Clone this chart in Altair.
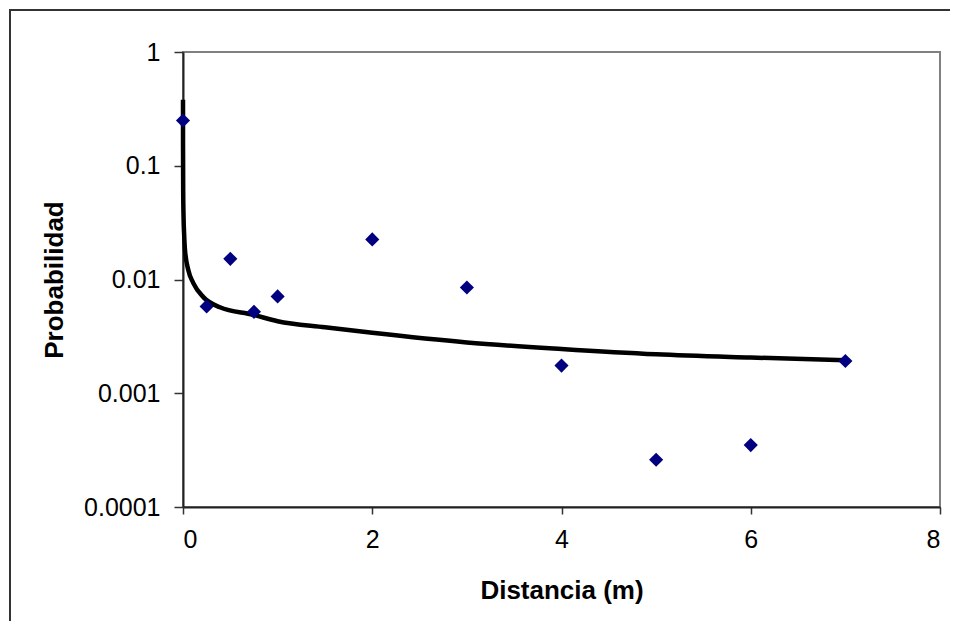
import altair as alt
import pandas as pd

# Observed points
dist = [0, 0.25, 0.5, 0.75, 1, 2, 3, 4, 5, 6, 7]
prob = [0.25, 0.0058, 0.0152, 0.0052, 0.0071, 0.0225, 0.0085, 0.00175, 0.00026, 0.00035, 0.00192]

# Trend curve
curve_x = [0.00003, 0.0003, 0.002, 0.006, 0.012, 0.021, 0.056, 0.109, 0.215, 0.39, 0.74,
           1.0, 1.5, 2.0, 3.0, 4.0, 5.0, 6.0, 7.0]
curve_y = [0.38, 0.15, 0.06, 0.035, 0.025, 0.0182, 0.0121, 0.0093, 0.0070, 0.0057, 0.0049,
           0.0043, 0.0038, 0.0034, 0.0028, 0.00245, 0.0022, 0.00206, 0.00195]

x_ticks = [0, 2, 4, 6, 8]
y_ticks = [1, 0.1, 0.01, 0.001, 0.0001]

pts = pd.DataFrame({"x": dist, "y": prob})
crv = pd.DataFrame({"x": curve_x, "y": curve_y})

FONT = "Liberation Sans"
W, H = 757, 455

xs = alt.Scale(domain=[0, 8], nice=False, zero=False)
ys = alt.Scale(type="log", domain=[0.0001, 1], nice=False)

xaxis = alt.Axis(values=x_ticks, title="Distancia (m)", grid=False, tickSize=7, format="d",
                 labelPadding=13, labelFontSize=25, labelFont=FONT, labelColor="black",
                 titleFont=FONT, titleFontSize=26, titleFontWeight="bold", titleColor="black",
                 titleBaseline="alphabetic", titleY=91, titleX=W / 2,
                 domainColor="#222222", domainWidth=2, tickColor="#333333", tickWidth=1.5)
yaxis = alt.Axis(values=y_ticks, title="Probabilidad", grid=False, tickSize=9, format=".4~f",
                 labelPadding=14, labelFontSize=25, labelFont=FONT, labelColor="black",
                 titleFont=FONT, titleFontSize=26, titleFontWeight="bold", titleColor="black",
                 titleBaseline="alphabetic", titleX=-121, titleY=H / 2, titleAngle=270,
                 domainColor="#222222", domainWidth=2, tickColor="#333333", tickWidth=1.5)

frame = pd.DataFrame({"a": [0]})
border_top = alt.Chart(frame).mark_rect(fill="#333333", strokeWidth=0).encode(
    x=alt.value(-174), x2=alt.value(W + 10), y=alt.value(-43), y2=alt.value(-41)
)
border_left = alt.Chart(frame).mark_rect(fill="#333333", strokeWidth=0).encode(
    x=alt.value(-174), x2=alt.value(-172), y=alt.value(-43), y2=alt.value(H + 114)
)

line = alt.Chart(crv).mark_line(color="black", strokeWidth=4.5, interpolate="monotone").encode(
    x=alt.X("x:Q", scale=xs, axis=xaxis),
    y=alt.Y("y:Q", scale=ys, axis=yaxis),
)

points = alt.Chart(pts).mark_point(shape="diamond", filled=True, color="#000080",
                                   size=200, opacity=1).encode(
    x=alt.X("x:Q", scale=xs),
    y=alt.Y("y:Q", scale=ys),
)

chart = alt.layer(border_top, border_left, line, points).properties(
    width=W, height=H,
    autosize=alt.AutoSizeParams(type="none"),
    padding={"left": 175, "top": 44, "right": 13, "bottom": 117},
).configure_view(stroke="#808080", strokeWidth=2)

chart.save("out.html", embed_options={"renderer": "svg", "actions": False})
